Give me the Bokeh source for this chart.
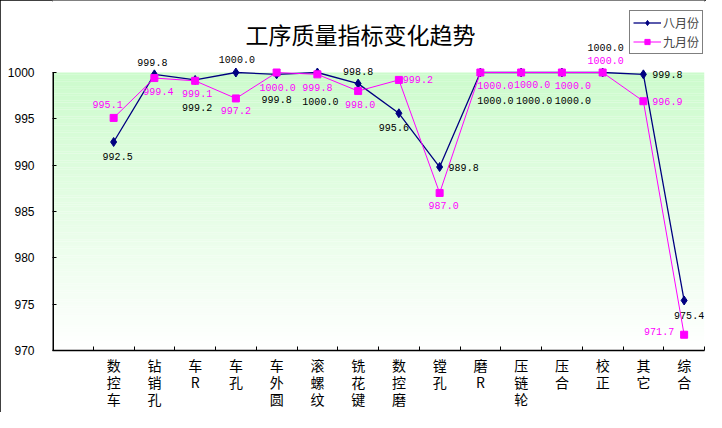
from bokeh.plotting import figure
from bokeh.models import Range1d, FixedTicker, Label, Legend, LegendItem
from bokeh.embed import file_html
from bokeh.resources import INLINE

# ---- data ----
categories = ["数控车", "钻销孔", "车R", "车孔", "车外圆", "滚螺纹", "铣花键", "数控磨",
              "镗孔", "磨R", "压链轮", "压合", "校正", "其它", "综合"]
aug = [992.5, 999.8, 999.2, 1000.0, 999.8, 1000.0, 998.8, 995.6, 989.8,
       1000.0, 1000.0, 1000.0, 1000.0, 999.8, 975.4]
sep = [995.1, 999.4, 999.1, 997.2, 1000.0, 999.8, 998.0, 999.2, 987.0,
       1000.0, 1000.0, 1000.0, 1000.0, 996.9, 971.7]
series_names = ["八月份", "九月份"]
title_text = "工序质量指标变化趋势"
y_ticks = [970, 975, 980, 985, 990, 995, 1000]

# ---- label offsets (pixels: right, down) ----
aug_off = [(4, 14), (-2, -12), (2, 28), (1, -13), (0, 25), (3, 29), (0, -12), (-5, 14),
           (24, 0), (15, 28), (13, 28), (11, 28), (3, -25), (24, 0), (5, 15)]
sep_off = [(-6, -13), (4, 13), (2, 13), (0, 12), (1, 15), (0, 13), (2, 13), (19, 0),
           (4, 13), (15, 13), (11, 12), (11, 13), (3, -12), (24, 0), (-25, -3)]

AUG_C = "#000080"
SEP_C = "#FF00FF"
n_slots = len(categories) + 1          # one blank leading category slot
xs = [i + 1.5 for i in range(len(categories))]

# layout (pixels)
FL, FW, FR = 52, 652, 2          # frame left border, frame width, right border
PLOT_TOP = 72                    # top of the value area inside the frame
FH, FB = 350, 62                 # frame height (from canvas top), bottom border
lo, hi = y_ticks[0], y_ticks[-1]
ppu_y = (FH - PLOT_TOP) / (hi - lo)
y_top = hi + PLOT_TOP / ppu_y
ppu_x = FW / n_slots

p = figure(output_backend="svg", toolbar_location=None,
           x_range=Range1d(0, n_slots), y_range=Range1d(lo, y_top),
           frame_width=FW, frame_height=FH)
p.min_border_left = FL
p.min_border_right = FR
p.min_border_top = 0
p.min_border_bottom = FB
p.outline_line_color = None
p.background_fill_color = "white"
p.border_fill_color = "white"
p.xgrid.visible = False
p.ygrid.visible = False
p.styles = {"box-shadow": "inset 2px 2px 0 0 black"}

# gradient plot-area background (style only)
nb = 120
step = (hi - lo) / nb
bl, tp, cols = [], [], []
for k in range(nb):
    b = lo + k * step
    t = (b + step / 2 - lo) / (hi - lo)
    r = int(round(255 - 51 * t))
    g = int(round(255 - 4 * t))
    cols.append("#%02x%02x%02x" % (r, g, r))
    bl.append(b)
    tp.append(min(b + step + 0.01, hi))
p.quad(left=0, right=n_slots, bottom=bl, top=tp, fill_color=cols, line_color=None)

# left axis line limited to the value area
p.segment(x0=[0], y0=[lo], x1=[0], y1=[hi], line_color="black", line_width=3)

# series
la = p.line(xs, aug, line_color=AUG_C, line_width=1.3)
sa = p.scatter(xs, aug, marker="diamond", size=9, fill_color=AUG_C, line_color=AUG_C)
lb = p.line(xs, sep, line_color=SEP_C, line_width=1.0)
sb = p.scatter(xs, sep, marker="square", size=7, fill_color=SEP_C, line_color=SEP_C)

# data labels
for vals, offs, col in ((aug, aug_off, "black"), (sep, sep_off, SEP_C)):
    for x, v, (dx, dy) in zip(xs, vals, offs):
        p.add_layout(Label(x=x, y=v, x_offset=dx, y_offset=-dy, text="%.1f" % v,
                           text_align="center", text_baseline="middle",
                           text_font="Liberation Mono", text_font_size="10px",
                           text_color=col))

# title
p.add_layout(Label(x=(360 - FL) / ppu_x, y=lo + (FH - 33) / ppu_y,
                   text=title_text, text_align="center", text_baseline="middle",
                   text_font="Noto Sans CJK SC", text_font_size="23px",
                   text_font_style="normal", text_color="black"))

# axes
xa = p.xaxis[0]
xa.ticker = FixedTicker(ticks=xs, minor_ticks=list(range(1, n_slots + 1)))
xa.major_label_overrides = {x: "\n".join(list(c)) for x, c in zip(xs, categories)}
xa.major_tick_in = 0
xa.major_tick_out = 0
xa.minor_tick_in = 4
xa.minor_tick_out = 0
xa.minor_tick_line_color = "black"
xa.axis_line_color = "black"
xa.axis_line_width = 1.5
xa.major_label_standoff = 4
xa.major_label_text_font = "Noto Sans CJK SC"
xa.major_label_text_font_size = "14px"
xa.major_label_text_color = "black"
xa.major_label_text_line_height = 0.87

ya = p.yaxis[0]
ya.ticker = FixedTicker(ticks=y_ticks)
ya.major_tick_in = 4
ya.major_tick_out = 0
ya.minor_tick_line_color = None
ya.axis_line_color = None
ya.major_tick_line_color = "black"
ya.major_label_standoff = 18
ya.major_label_text_font = "Liberation Sans"
ya.major_label_text_font_size = "12px"
ya.major_label_text_color = "black"

legend = Legend(items=[LegendItem(label=series_names[0], renderers=[la, sa]),
                       LegendItem(label=series_names[1], renderers=[lb, sb])],
                location=(577, FH - 54))
legend.border_line_color = "black"
legend.border_line_width = 1.5
legend.background_fill_color = "white"
legend.background_fill_alpha = 1.0
legend.padding = 3
legend.margin = 0
legend.spacing = 2
legend.glyph_width = 28
legend.glyph_height = 13
legend.label_height = 13
legend.label_standoff = 2
legend.label_text_font = "Noto Sans CJK SC"
legend.label_text_font_size = "12px"
p.add_layout(legend)

open("out.html", "w").write(file_html(p, INLINE))
